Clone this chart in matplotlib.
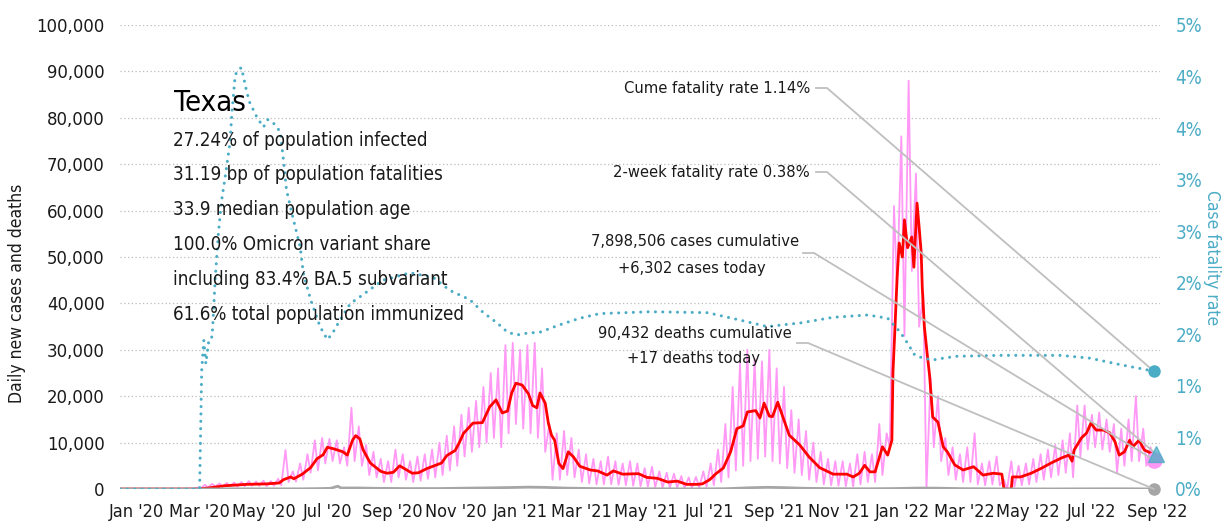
import matplotlib
matplotlib.use('Agg')
import matplotlib.pyplot as plt
import matplotlib.dates as mdates
from matplotlib import font_manager
from matplotlib.ticker import FuncFormatter, FixedLocator
import numpy as np
import pandas as pd

# pick a narrow font if one is around
fonts = font_manager.fontManager.ttflist
if any(f.name == 'Liberation Sans Narrow' for f in fonts):
    FONT, STRETCH = 'Liberation Sans Narrow', 'normal'
elif any(f.name == 'DejaVu Sans' and f.stretch == 'condensed' for f in fonts):
    FONT, STRETCH = 'DejaVu Sans', 'condensed'
else:
    FONT, STRETCH = 'Roboto', 'normal'
plt.rcParams['font.family'] = [FONT, 'DejaVu Sans']
plt.rcParams['font.stretch'] = STRETCH

W, H = 1223, 527

# Colors
PINK = '#FF99F5'
RED = '#FF0000'
TEAL = '#4BACC6'
GRAY = '#A6A6A6'
LINE_GRAY = '#BFBFBF'
TEXT = '#1A1A1A'

# ============= DATA =============
# daily cases: one high and one low reading per week, weeks starting 2020-03-01
week_start = '2020-03-01'
daily_peaks = [0, 100, 300, 900, 1100, 1200, 1300, 1400, 1500, 1700, 1600, 1800, 1700, 2200,
               8400, 3800, 5500, 7500, 10500, 11000, 10800, 10500, 9000, 17500, 13500, 9500, 8000,
               6500, 6000, 8500, 7500, 6000, 7000, 7500, 8500, 10000, 11500, 13500, 16000, 17500,
               19000, 22000, 25000, 26000,
               31000, 31500, 30000, 31000, 31500, 26000, 14000, 12000, 12500, 11000,
               8500, 7500, 6500, 6000, 7000, 6000, 5500, 6000, 5500, 4500, 4800, 3800, 3500, 3300,
               2800, 2500, 2600, 3800, 5500, 8500,
               14000, 22000, 27000, 30000, 28000, 27500, 30000, 26000, 22000, 17000, 15000, 12500,
               10000, 8000, 6500, 6000, 6000, 5500, 7500, 8000, 7500, 14000,
               12000, 61000, 76000, 88000, 68000, 42000, 24000, 20000, 11000, 9000, 7500, 9000, 12000,
               5500, 6000, 7000, 2000, 6000, 5000, 5500, 6500, 7500, 8500, 9500, 10500, 12000,
               18000, 18000, 16000, 16500, 15000, 14000, 13000, 15000, 20000, 13000, 9000]
daily_lows = [0, 0, 100, 300, 500, 500, 600, 500, 600, 700, 700, 600, 700, 800,
              1500, 1600, 2000, 3500, 4000, 5500, 6000, 5500, 5000, 6000, 5000, 3000, 2500,
              1500, 1500, 2500, 2000, 1500, 1800, 2200, 2500, 3000, 4000, 5000, 7000, 8000,
              9000, 10000, 11000, 9000,
              12000, 14000, 13000, 12000, 11000, 8000, 2000, 2000, 3000, 2500,
              1500, 1200, 1000, 1000, 1000, 900, 800, 700, 600, 500, 400, 300, 300, 300,
              200, 200, 300, 500, 800, 1500,
              2500, 4000, 5000, 6000, 6500, 7000, 6000, 5500, 4500, 3500, 3000, 2000,
              1500, 1000, 800, 700, 600, 500, 1000, 1500, 1500, 3000,
              9000, 43000, 33000, 47000, 35000, 0, 9000, 6000, 3000, 2000, 1500, 1500, 1000,
              800, 1000, 800, 0, 500, 800, 1000, 1500, 2000, 2500, 3000, 3500, 2500,
              7000, 8500, 9000, 8500, 8000, 3500, 5000, 6000, 6000, 5000, 6302]

# 7-day average of cases
avg_cases = [
    ('2020-01-01', 0), ('2020-03-15', 0), ('2020-03-25', 200), ('2020-04-10', 700),
    ('2020-05-01', 1000), ('2020-05-20', 1100), ('2020-06-01', 1300), ('2020-06-05', 2000),
    ('2020-06-12', 2600), ('2020-06-15', 2200), ('2020-06-23', 3200), ('2020-07-01', 4600),
    ('2020-07-07', 6500), ('2020-07-13', 7400), ('2020-07-17', 9000), ('2020-07-24', 8600),
    ('2020-08-01', 8000), ('2020-08-05', 7300), ('2020-08-10', 10500), ('2020-08-13', 11500),
    ('2020-08-17', 10800), ('2020-08-20', 8500), ('2020-08-27', 5600), ('2020-09-06', 3800),
    ('2020-09-12', 3400), ('2020-09-18', 3600), ('2020-09-24', 5000), ('2020-09-30', 4200),
    ('2020-10-06', 3400), ('2020-10-12', 3500), ('2020-10-20', 4400), ('2020-10-27', 5000),
    ('2020-11-03', 5600), ('2020-11-08', 7200), ('2020-11-16', 8300), ('2020-11-20', 10000),
    ('2020-11-24', 12000), ('2020-12-03', 14200), ('2020-12-12', 14300), ('2020-12-19', 17700),
    ('2020-12-25', 19200), ('2020-12-31', 16400), ('2021-01-05', 16800), ('2021-01-09', 20700),
    ('2021-01-13', 22800), ('2021-01-19', 22400), ('2021-01-25', 20500), ('2021-01-29', 18000),
    ('2021-02-02', 17500), ('2021-02-05', 20700), ('2021-02-10', 18500), ('2021-02-13', 14200),
    ('2021-02-16', 11600), ('2021-02-19', 10500), ('2021-02-23', 5500), ('2021-02-27', 4400),
    ('2021-03-04', 8000), ('2021-03-09', 6900), ('2021-03-15', 4900), ('2021-03-25', 4100),
    ('2021-04-01', 3900), ('2021-04-10', 3000), ('2021-04-16', 3900), ('2021-04-25', 3200),
    ('2021-05-10', 3300), ('2021-05-18', 2500), ('2021-05-28', 2300), ('2021-06-07', 1500),
    ('2021-06-16', 1700), ('2021-06-25', 1000), ('2021-07-05', 1000), ('2021-07-10', 1100),
    ('2021-07-17', 2000), ('2021-07-23', 3300), ('2021-07-30', 4500), ('2021-08-06', 8000),
    ('2021-08-12', 13000), ('2021-08-18', 13600), ('2021-08-22', 16600), ('2021-08-30', 16900),
    ('2021-09-03', 15300), ('2021-09-07', 18500), ('2021-09-12', 15700), ('2021-09-15', 15600),
    ('2021-09-20', 18700), ('2021-09-25', 15500), ('2021-10-01', 11600), ('2021-10-11', 9500),
    ('2021-10-20', 6900), ('2021-10-30', 4600), ('2021-11-12', 3200), ('2021-11-25', 3200),
    ('2021-12-01', 2600), ('2021-12-07', 3400), ('2021-12-12', 5100), ('2021-12-17', 3700),
    ('2021-12-22', 3700), ('2021-12-29', 9100), ('2022-01-03', 7300), ('2022-01-07', 10500),
    ('2022-01-08', 25000), ('2022-01-10', 35000), ('2022-01-12', 45700), ('2022-01-14', 53000),
    ('2022-01-17', 50000), ('2022-01-19', 58000), ('2022-01-22', 52000), ('2022-01-26', 54300),
    ('2022-01-28', 47800), ('2022-01-31', 61600), ('2022-02-02', 56500), ('2022-02-04', 50900),
    ('2022-02-05', 43500), ('2022-02-07', 35000), ('2022-02-10', 28500), ('2022-02-12', 24500),
    ('2022-02-15', 15500), ('2022-02-20', 14400), ('2022-02-25', 9100), ('2022-03-01', 8000),
    ('2022-03-08', 5200), ('2022-03-16', 4100), ('2022-03-26', 4800), ('2022-04-04', 3000),
    ('2022-04-14', 3400), ('2022-04-22', 3200), ('2022-04-24', 0), ('2022-05-01', 0),
    ('2022-05-02', 2600), ('2022-05-10', 2600), ('2022-05-20', 3400), ('2022-05-30', 4500),
    ('2022-06-08', 5600), ('2022-06-18', 6700), ('2022-06-25', 7300), ('2022-06-28', 6000),
    ('2022-06-30', 8400), ('2022-07-07', 11000), ('2022-07-12', 12100), ('2022-07-16', 14200),
    ('2022-07-21', 12700), ('2022-07-28', 12700), ('2022-08-03', 12100), ('2022-08-08', 10200),
    ('2022-08-12', 7300), ('2022-08-17', 8000), ('2022-08-22', 10500), ('2022-08-25', 9100),
    ('2022-08-31', 10500), ('2022-09-05', 8400), ('2022-09-09', 8000), ('2022-09-14', 7300)]

# daily deaths (near the floor at this scale)
deaths = [
    ('2020-01-01', 0), ('2020-03-15', 0), ('2020-04-01', 20), ('2020-04-15', 35),
    ('2020-05-01', 35), ('2020-06-01', 30), ('2020-06-20', 30), ('2020-07-10', 90),
    ('2020-07-20', 150), ('2020-07-27', 600), ('2020-07-30', 220), ('2020-08-15', 220),
    ('2020-09-01', 150), ('2020-10-01', 90), ('2020-11-01', 100), ('2020-12-01', 200),
    ('2020-12-20', 250), ('2021-01-10', 330), ('2021-01-25', 400), ('2021-02-10', 350),
    ('2021-03-01', 200), ('2021-04-01', 80), ('2021-05-01', 50), ('2021-06-01', 40),
    ('2021-07-01', 25), ('2021-08-01', 60), ('2021-08-25', 280), ('2021-09-10', 360),
    ('2021-09-25', 300), ('2021-10-15', 160), ('2021-11-15', 60), ('2021-12-15', 50),
    ('2022-01-10', 100), ('2022-02-01', 200), ('2022-02-20', 180), ('2022-03-15', 80),
    ('2022-04-15', 30), ('2022-05-15', 15), ('2022-06-15', 20), ('2022-07-15', 40),
    ('2022-08-15', 50), ('2022-09-14', 17)]

# case fatality rate, percent
fatality_pct = [
    ('2020-01-01', 0), ('2020-03-17', 0), ('2020-03-19', 1.28), ('2020-03-21', 1.60),
    ('2020-03-23', 1.35), ('2020-03-26', 1.62), ('2020-03-29', 1.64), ('2020-04-01', 2.28),
    ('2020-04-04', 2.76), ('2020-04-07', 3.11), ('2020-04-10', 3.33), ('2020-04-15', 3.73),
    ('2020-04-17', 4.08), ('2020-04-20', 4.46), ('2020-04-23', 4.52), ('2020-04-26', 4.54),
    ('2020-05-01', 4.28), ('2020-05-04', 4.16), ('2020-05-11', 4.00), ('2020-05-17', 3.90),
    ('2020-05-21', 3.98), ('2020-05-26', 3.95), ('2020-06-02', 3.85), ('2020-06-05', 3.55),
    ('2020-06-08', 3.22), ('2020-06-14', 2.93), ('2020-06-21', 2.61), ('2020-06-24', 2.33),
    ('2020-07-01', 2.04), ('2020-07-10', 1.75), ('2020-07-17', 1.61), ('2020-07-22', 1.68),
    ('2020-07-29', 1.82), ('2020-08-08', 2.00), ('2020-08-17', 2.07), ('2020-09-08', 2.25),
    ('2020-10-04', 2.33), ('2020-10-26', 2.28), ('2020-11-11', 2.14), ('2020-11-30', 2.04),
    ('2020-12-13', 1.90), ('2020-12-26', 1.79), ('2021-01-05', 1.69), ('2021-01-14', 1.66),
    ('2021-01-24', 1.68), ('2021-02-05', 1.69), ('2021-02-24', 1.77), ('2021-03-15', 1.84),
    ('2021-04-03', 1.89), ('2021-05-21', 1.91), ('2021-07-15', 1.90), ('2021-08-15', 1.82),
    ('2021-09-10', 1.75), ('2021-10-12', 1.79), ('2021-11-12', 1.85), ('2021-12-15', 1.875),
    ('2022-01-03', 1.84), ('2022-01-15', 1.69), ('2022-01-22', 1.57), ('2022-01-29', 1.44),
    ('2022-02-06', 1.41), ('2022-02-15', 1.39), ('2022-02-25', 1.41), ('2022-03-10', 1.43),
    ('2022-04-20', 1.44), ('2022-06-17', 1.44), ('2022-07-15', 1.41), ('2022-08-13', 1.34),
    ('2022-09-14', 1.27)]

last_date = '2022-09-14'
two_week_rate = 0.38
cases_today = 6302
deaths_today = 17

state = 'Texas'
stats_lines = ['27.24% of population infected',
               '31.19 bp of population fatalities',
               '33.9 median population age',
               '100.0% Omicron variant share',
               'including 83.4% BA.5 subvariant',
               '61.6% total population immunized']
callouts = ['Cume fatality rate 1.14%',
            '2-week fatality rate 0.38%',
            '7,898,506 cases cumulative', '+6,302 cases today',
            '90,432 deaths cumulative', '+17 deaths today']

# ============= BUILD SERIES =============
weeks = pd.date_range(week_start, periods=len(daily_peaks), freq='7D')
peak_days = mdates.date2num(weeks)
low_days = mdates.date2num(weeks + pd.Timedelta(days=3))
daily_x = np.empty(2 * len(weeks))
daily_x[0::2] = peak_days
daily_x[1::2] = low_days
daily_vals = np.empty(2 * len(weeks))
daily_vals[0::2] = daily_peaks
daily_vals[1::2] = daily_lows

avg_x = mdates.date2num(pd.to_datetime([d for d, v in avg_cases]))
avg_v = [v for d, v in avg_cases]
dth_x = mdates.date2num(pd.to_datetime([d for d, v in deaths]))
dth_v = [v for d, v in deaths]
cfr_x = mdates.date2num(pd.to_datetime([d for d, v in fatality_pct]))
cfr_v = np.array([v for d, v in fatality_pct]) / 100
end = mdates.date2num(pd.Timestamp(last_date))

# ============= FIGURE =============
fig = plt.figure(figsize=(W / 100, H / 100), dpi=100)
ax_left, ax_right, ax_top, ax_bot = 120, 1160, 25, 489
ax = fig.add_axes([ax_left / W, (H - ax_bot) / H, (ax_right - ax_left) / W, (ax_bot - ax_top) / H])
ax2 = ax.twinx()

ax.set_xlim(mdates.date2num(pd.Timestamp('2020-01-01')), mdates.date2num(pd.Timestamp('2022-09-20')))
ax.set_ylim(0, 100000)
ax2.set_ylim(0, 0.05)

ax.plot(daily_x, daily_vals, color=PINK, lw=1.3, zorder=2)
ax.plot(avg_x, avg_v, color=RED, lw=2.0, zorder=3)
ax.plot(dth_x, dth_v, color=GRAY, lw=2.0, zorder=3)

ax2.plot(cfr_x, cfr_v, color=TEAL, lw=2.2, linestyle=(0, (0.01, 2.4)),
         dash_capstyle='round', zorder=4)

# end markers
tri_x = end + 2
ax2.plot([end], [cfr_v[-1]], 'o', color=TEAL, ms=8, zorder=6, clip_on=False)
ax2.plot([tri_x], [two_week_rate / 100], '^', color=TEAL, alpha=0.75,
         ms=11, zorder=6, clip_on=False)
ax.plot([end], [cases_today], 'o', color=PINK, ms=11, zorder=6, clip_on=False)
ax.plot([end], [deaths_today], 'o', color=GRAY, ms=8, zorder=6, clip_on=False)

# axes styling
for a in (ax, ax2):
    for s in a.spines.values():
        s.set_visible(False)
    a.tick_params(length=0)

ax.yaxis.set_major_locator(FixedLocator(np.arange(0, 100001, 10000)))
ax.yaxis.set_major_formatter(FuncFormatter(lambda v, p: f'{v:,.0f}'))
ax.tick_params(axis='y', labelsize=13.2, labelcolor=TEXT, pad=11)
ax.yaxis.grid(True, linestyle=(0, (1, 2)), color='#BBBBBB', lw=0.9)
ax.set_axisbelow(True)

ax2.yaxis.set_major_locator(FixedLocator(np.linspace(0, 0.05, 10)))
ax2.yaxis.set_major_formatter(FuncFormatter(lambda v, p: f'{v:.0%}'))
ax2.tick_params(axis='y', labelsize=13.5, labelcolor=TEAL, pad=11)

xt = pd.date_range('2020-01-01', '2022-09-30', freq='2MS') + pd.Timedelta(days=16)
ax.xaxis.set_major_locator(FixedLocator(mdates.date2num(xt)))
ax.xaxis.set_major_formatter(mdates.DateFormatter("%b '%y"))
ax.tick_params(axis='x', labelsize=13, labelcolor=TEXT, pad=10)


def fxy(x, y):
    """image pixel -> figure fraction"""
    return x / W, 1 - y / H


fig.text(*fxy(17, 293), 'Daily new cases and deaths', rotation=90, ha='center', va='center',
         fontsize=12.5, color=TEXT)
fig.text(*fxy(1212, 258), 'Case fatality rate', rotation=270, ha='center', va='center',
         fontsize=12.5, color=TEAL)

# state block
fig.text(*fxy(174, 103), state, ha='left', va='center', fontsize=21, color='black')
for i, line in enumerate(stats_lines):
    fig.text(*fxy(173, 140 + i * 34.8), line, ha='left', va='center', fontsize=13.5, color=TEXT)

# call-outs
CF = 11.8
fig.text(*fxy(810, 88), callouts[0], ha='right', va='center', fontsize=CF, color=TEXT)
fig.text(*fxy(810, 172), callouts[1], ha='right', va='center', fontsize=CF, color=TEXT)
fig.text(*fxy(695, 242), callouts[2], ha='center', va='center', fontsize=CF, color=TEXT)
fig.text(*fxy(692, 268), callouts[3], ha='center', va='center', fontsize=CF, color=TEXT)
fig.text(*fxy(695, 333), callouts[4], ha='center', va='center', fontsize=CF, color=TEXT)
fig.text(*fxy(694, 358), callouts[5], ha='center', va='center', fontsize=CF, color=TEXT)

# leader lines: short flat stub, then straight to the end marker
inv = ax2.transData.inverted()
targets = [(end, cfr_v[-1]),
           (tri_x, two_week_rate / 100),
           (end, cases_today / 100000 * 0.05),
           (end, deaths_today / 100000 * 0.05)]
stubs = [(816, 88), (816, 172), (803, 253), (797, 343)]
for (sx, sy), (tx, tv) in zip(stubs, targets):
    p0 = inv.transform((sx, H - sy))
    p1 = inv.transform((sx + 11, H - sy))
    ax2.plot([p0[0], p1[0], tx], [p0[1], p1[1], tv],
             color=LINE_GRAY, lw=1.3, zorder=5, clip_on=False)

fig.savefig('out.png', dpi=100, facecolor='white')
